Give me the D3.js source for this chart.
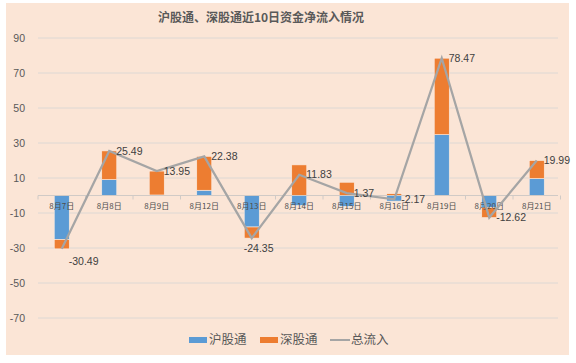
<!DOCTYPE html>
<html>
<head>
<meta charset="utf-8">
<script src="https://cdn.jsdelivr.net/npm/d3@7"></script>
<style>
  body { margin: 0; background: #fff; }
  text { font-family: "Liberation Sans", Arial, sans-serif; }
  .cjk { font-family: "Noto Sans CJK SC", sans-serif; }
</style>
</head>
<body>
<div id="chart"></div>
<script>
// data
var dates = ["8月7日", "8月8日", "8月9日", "8月12日", "8月13日", "8月14日", "8月15日", "8月16日", "8月19日", "8月20日", "8月21日"];
var hgt = [-25.2, 9.1, 0.3, 3.0, -18.0, -5.67, -6.2, -3.2, 34.8, -6.9, 9.7];     // 沪股通
var sgt = [-5.29, 16.39, 13.65, 19.38, -6.35, 17.5, 7.57, 1.03, 43.67, -5.72, 10.29]; // 深股通
var total = [-30.49, 25.49, 13.95, 22.38, -24.35, 11.83, 1.37, -2.17, 78.47, -12.62, 19.99]; // 总流入
var yTicks = [-70, -50, -30, -10, 10, 30, 50, 70, 90];
var seriesNames = ["沪股通", "深股通", "总流入"];
var colors = ["#5B9BD5", "#ED7D31", "#A5A5A5"];

var W = 576, H = 363;
var svg = d3.select("#chart").append("svg")
    .attr("width", W)
    .attr("height", H);

// chart area background
svg.append("rect")
    .attr("x", 6).attr("y", 3)
    .attr("width", 563).attr("height", 352)
    .attr("fill", "#FBE5D6");

var x = d3.scaleBand().domain(dates).range([38, 560.5])
    .paddingInner(0.684).paddingOuter(0.342);
var y = d3.scaleLinear().domain([-70, 90]).range([318, 38]);

// grid lines
svg.append("g")
  .selectAll("line")
  .data(yTicks)
  .enter().append("line")
    .attr("x1", 38).attr("x2", 558)
    .attr("y1", function(d) { return y(d); })
    .attr("y2", function(d) { return y(d); })
    .attr("stroke", "#DDD8D4")
    .attr("stroke-width", 1);

// y labels
svg.append("g")
  .selectAll("text")
  .data(yTicks)
  .enter().append("text")
    .attr("x", 25)
    .attr("y", function(d) { return y(d); })
    .attr("dy", "0.35em")
    .attr("text-anchor", "end")
    .attr("font-size", "10.5px")
    .attr("fill", "#595959")
    .text(function(d) { return d; });

// stacked bars
var rows = dates.map(function(d, i) { return {date: d, h: hgt[i], s: sgt[i]}; });
var stack = d3.stack().keys(["h", "s"]).offset(d3.stackOffsetDiverging);
var layers = stack(rows);

svg.append("g")
  .selectAll("g")
  .data(layers)
  .enter().append("g")
    .attr("fill", function(d, i) { return colors[i]; })
  .selectAll("rect")
  .data(function(d) { return d; })
  .enter().append("rect")
    .attr("x", function(d) { return x(d.data.date); })
    .attr("width", x.bandwidth())
    .attr("y", function(d) { return y(Math.max(d[0], d[1])); })
    .attr("height", function(d) { return Math.abs(y(d[0]) - y(d[1])); })
    .attr("stroke", "#FCEDE3")
    .attr("stroke-width", 0.6);

// zero axis with category ticks
svg.append("line")
    .attr("x1", 38).attr("x2", 558)
    .attr("y1", y(0)).attr("y2", y(0))
    .attr("stroke", "#D0CAC6");
svg.append("g")
  .selectAll("line")
  .data(dates.concat([null]))
  .enter().append("line")
    .attr("x1", function(d, i) { return 38 + i * x.step(); })
    .attr("x2", function(d, i) { return 38 + i * x.step(); })
    .attr("y1", y(0)).attr("y2", y(0) + 4)
    .attr("stroke", "#D0CAC6");

// category labels
svg.append("g")
  .selectAll("text")
  .data(dates)
  .enter().append("text")
    .attr("class", "cjk")
    .attr("x", function(d) { return x(d) + x.bandwidth() / 2; })
    .attr("y", y(0) + 11)
    .attr("dy", "0.35em")
    .attr("text-anchor", "middle")
    .attr("font-size", "8px")
    .attr("fill", "#4D4D4D")
    .text(function(d) { return d; });

// total line
var line = d3.line()
    .x(function(d, i) { return x(dates[i]) + x.bandwidth() / 2; })
    .y(function(d) { return y(d); });

svg.append("path")
    .datum(total)
    .attr("d", line)
    .attr("fill", "none")
    .attr("stroke", colors[2])
    .attr("stroke-width", 2.25);

// value labels sit to the right of the point; the two deep dips are pushed below
function labelDx(d, i) {
  if (dates[i] === "8月13日") return -8;
  return 7;
}
function labelDy(d, i) {
  if (dates[i] === "8月7日") return 12;
  if (dates[i] === "8月13日") return 10;
  return 0;
}
svg.append("g")
  .selectAll("text")
  .data(total)
  .enter().append("text")
    .attr("x", function(d, i) { return x(dates[i]) + x.bandwidth() / 2 + labelDx(d, i); })
    .attr("y", function(d, i) { return y(d) + labelDy(d, i); })
    .attr("dy", "0.35em")
    .attr("font-size", "10.5px")
    .attr("fill", "#404040")
    .text(function(d) { return d.toFixed(2); });

// title
svg.append("text")
    .attr("class", "cjk")
    .attr("x", 261)
    .attr("y", 18)
    .attr("dy", "0.35em")
    .attr("text-anchor", "middle")
    .attr("font-size", "12px")
    .attr("font-weight", "bold")
    .attr("fill", "#595959")
    .text("沪股通、深股通近10日资金净流入情况");

// legend
var legendX = [189, 260, 330];
var legend = svg.append("g")
  .selectAll("g")
  .data(seriesNames)
  .enter().append("g")
    .attr("transform", function(d, i) { return "translate(" + legendX[i] + ",340)"; });

legend.append("rect")
    .attr("x", 0).attr("y", function(d, i) { return i < 2 ? -3 : -1; })
    .attr("width", function(d, i) { return i < 2 ? 18 : 20; })
    .attr("height", function(d, i) { return i < 2 ? 6 : 2; })
    .attr("fill", function(d, i) { return colors[i]; });

legend.append("text")
    .attr("class", "cjk")
    .attr("x", function(d, i) { return i < 2 ? 20 : 21; })
    .attr("dy", "0.35em")
    .attr("font-size", "12.5px")
    .attr("fill", "#595959")
    .text(function(d) { return d; });
</script>
</body>
</html>
